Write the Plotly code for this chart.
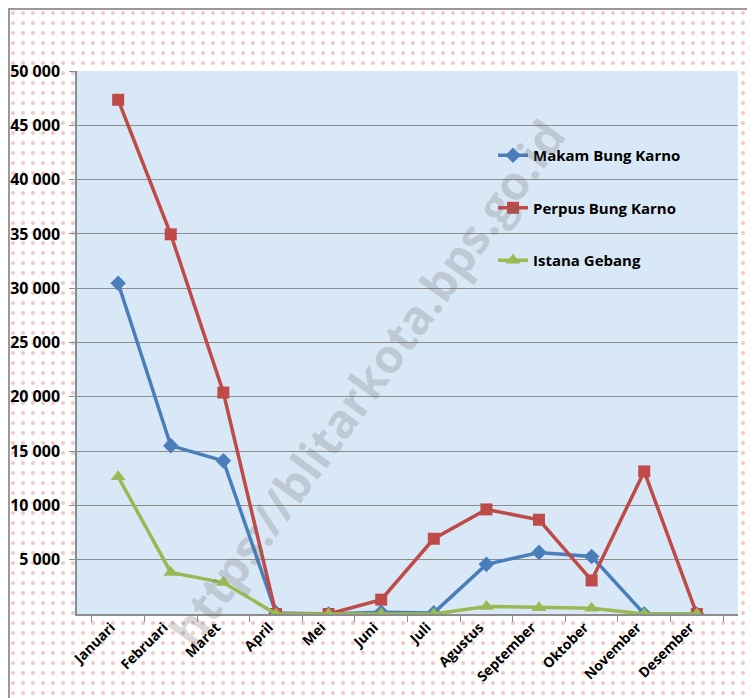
import plotly.graph_objects as go

# Monthly visitors per site
months = ['Januari', 'Februari', 'Maret', 'April', 'Mei', 'Juni',
          'Juli', 'Agustus', 'September', 'Oktober', 'November', 'Desember']
makam = [30450, 15500, 14100, 100, 0, 170, 100, 4570, 5670, 5300, 0, 0]
perpus = [47350, 34960, 20390, 0, 0, 1320, 6930, 9630, 8680, 3090, 13130, 0]
istana = [12640, 3830, 2890, 0, 0, 0, 0, 700, 580, 540, 0, 0]
y_ticks = [5000, 10000, 15000, 20000, 25000, 30000, 35000, 40000, 45000, 50000]

# the page puts the figure 8px in from the corner, so work in shifted pixels
OFF = 8
W, H = 755 - OFF, 698 - OFF
# plot area in pixels (left, right, top, bottom)
PL, PR, PT, PB = 77 - OFF, 738 - OFF, 71 - OFF, 614 - OFF

fig = go.Figure()

# patterned paper background
fig.add_trace(go.Scatter(
    x=[0, W, W, 0, 0], y=[0, 0, H, H, 0], xaxis='x', yaxis='y',
    mode='lines', fill='toself', line=dict(width=0), fillcolor='white',
    fillpattern=dict(shape='.', fgcolor='#e58f8f', bgcolor='white',
                     size=10, solidity=0.13),
    hoverinfo='skip', showlegend=False
))
# light blue plot area
fig.add_trace(go.Scatter(
    x=[PL, PR, PR, PL, PL], y=[H - PB, H - PB, H - PT, H - PT, H - PB],
    xaxis='x', yaxis='y', mode='lines', fill='toself',
    line=dict(width=0), fillcolor='#d9e8f6',
    hoverinfo='skip', showlegend=False
))

series = [
    ('Makam Bung Karno', makam, '#4a7ebb', 'diamond', 12),
    ('Perpus Bung Karno', perpus, '#be4b48', 'square', 12),
    ('Istana Gebang', istana, '#98b954', 'triangle-up', 13),
]
for name, vals, color, sym, size in series:
    fig.add_trace(go.Scatter(
        x=months, y=vals, name=name, xaxis='x2', yaxis='y2',
        mode='lines+markers', legendgroup=name,
        line=dict(color=color, width=3.5),
        marker=dict(symbol=sym, size=size, color=color),
    ))

tick_font = dict(family='Open Sans', size=16, color='black', weight='bold')

fig.update_layout(
    width=W, height=H,
    margin=dict(l=0, r=0, t=0, b=0, autoexpand=False),
    paper_bgcolor='white',
    plot_bgcolor='rgba(0,0,0,0)',
    separators='. ',
    xaxis=dict(domain=[0, 1], range=[0, W], visible=False, fixedrange=True),
    yaxis=dict(domain=[0, 1], range=[0, H], visible=False, fixedrange=True),
    xaxis2=dict(
        domain=[PL / W, PR / W], anchor='y2',
        tickangle=-45, tickfont=dict(tick_font, size=14),
        ticks='outside', tickson='boundaries', ticklen=6, tickcolor='#8c8c8c',
        ticklabelshift=-7, ticklabelstandoff=-2,
        showline=True, linecolor='#8c8c8c', linewidth=1.5, showgrid=False,
    ),
    yaxis2=dict(
        domain=[1 - PB / H, 1 - PT / H], anchor='x2',
        range=[0, 50000], tickvals=y_ticks, tickformat=',d',
        tickfont=tick_font, ticks='outside', ticklen=6, tickcolor='#8c8c8c',
        ticklabelstandoff=6,
        showline=True, linecolor='#8c8c8c', linewidth=1.5,
        showgrid=True, gridcolor='#8c8c8c', gridwidth=1.3, zeroline=False,
    ),
    legend=dict(
        x=(493 - OFF) / W, y=1 - (139 - OFF) / H, xanchor='left', yanchor='top',
        bgcolor='rgba(0,0,0,0)', tracegroupgap=30,
        font=dict(family='Open Sans', size=15, color='black', weight='bold'),
    ),
    shapes=[
        dict(type='line', xref='paper', yref='paper', x0=0, x1=1,
             y0=1 - 1 / H, y1=1 - 1 / H, line=dict(color='#999999', width=2)),
        dict(type='line', xref='paper', yref='paper', x0=1 / W, x1=1 / W,
             y0=0, y1=1, line=dict(color='#999999', width=2)),
    ],
    annotations=[dict(
        text='https://blitarkota.bps.go.id', xref='paper', yref='paper',
        x=(366 - OFF) / W, y=1 - (383 - OFF) / H, showarrow=False, textangle=-54,
        font=dict(family='Open Sans', size=47, color='rgba(110,110,110,0.25)',
                  weight='bold'),
    )],
)

fig.write_html('out.html')
